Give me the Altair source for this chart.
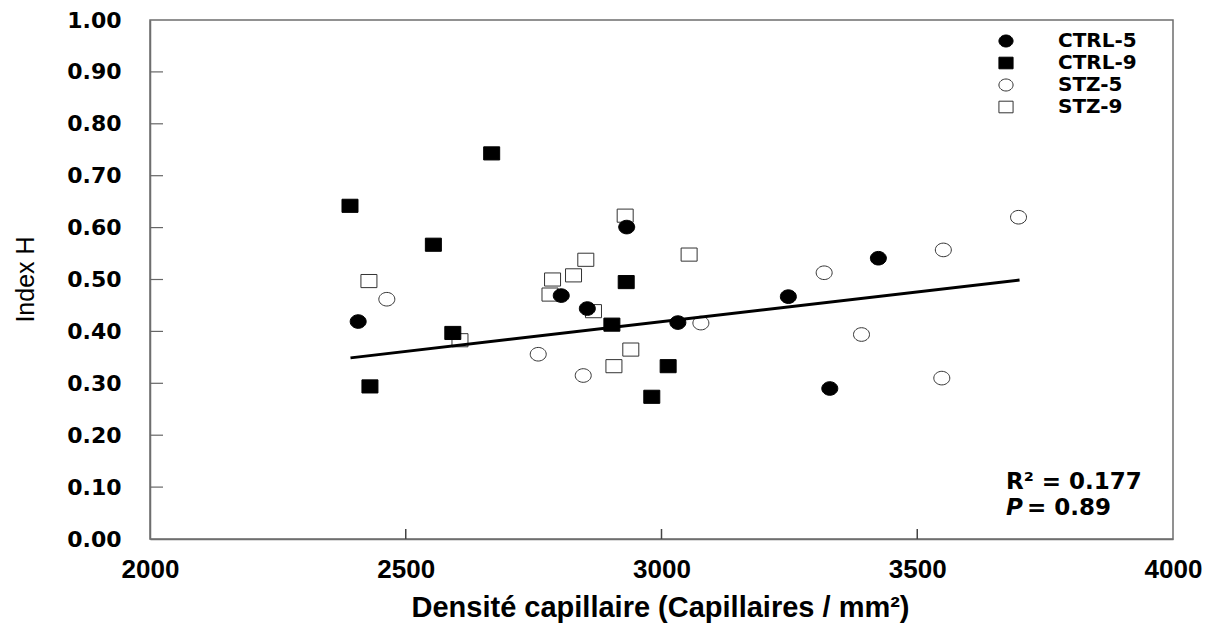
import altair as alt
import pandas as pd

# ---------------- data ----------------
groups = ["CTRL-5", "CTRL-9", "STZ-5", "STZ-9"]

ctrl5_x = [2407, 2804, 2855, 2932, 3032, 3248, 3424, 3329]
ctrl5_y = [0.419, 0.469, 0.444, 0.601, 0.417, 0.467, 0.541, 0.290]

ctrl9_x = [2668, 2391, 2554, 2592, 2430, 2931, 2903, 3013, 2981]
ctrl9_y = [0.743, 0.642, 0.567, 0.397, 0.294, 0.495, 0.413, 0.333, 0.274]

stz5_x = [2463, 2759, 2847, 3077, 3698, 3551, 3318, 3391, 3548]
stz5_y = [0.462, 0.356, 0.315, 0.416, 0.620, 0.557, 0.513, 0.394, 0.310]

stz9_x = [2428, 2929, 3054, 2852, 2828, 2787, 2782, 2867, 2606, 2940, 2907]
stz9_y = [0.497, 0.623, 0.548, 0.538, 0.508, 0.500, 0.471, 0.439, 0.383, 0.365, 0.333]

fit_x = [2392, 3700]
fit_y = [0.349, 0.499]

x_ticks = [2000, 2500, 3000, 3500, 4000]
y_ticks = [0.0, 0.1, 0.2, 0.3, 0.4, 0.5, 0.6, 0.7, 0.8, 0.9, 1.0]

r2_text = "R² = 0.177"
p_label = "P"
p_value = "= 0.89"

x_title = "Densité capillaire (Capillaires / mm²)"
y_title = "Index H"

# ---------------- tables ----------------
rows = []
for g, xs, ys in [("STZ-5", stz5_x, stz5_y), ("STZ-9", stz9_x, stz9_y),
                  ("CTRL-5", ctrl5_x, ctrl5_y), ("CTRL-9", ctrl9_x, ctrl9_y)]:
    for xv, yv in zip(xs, ys):
        rows.append({"group": g, "x": xv, "y": yv})
df = pd.DataFrame(rows)
fit_df = pd.DataFrame({"x": fit_x, "y": fit_y})
xt_df = pd.DataFrame({"x": x_ticks[1:-1]})
yt_df = pd.DataFrame({"y": y_ticks[1:-1]})

ellipse = "M-1,0A1,0.85 0 1,1 1,0A1,0.85 0 1,1 -1,0Z"
rect = "M-1,-0.82H1V0.82H-1Z"

xscale = alt.Scale(domain=[2000, 4000], nice=False, zero=False)
yscale = alt.Scale(domain=[0, 1], nice=False, zero=False)

AX = "#6e6e6e"
H = 519

x_axis = alt.Axis(values=x_ticks, format="d", grid=False, ticks=False, tickSize=0, labelFlush=False,
                  labelFont="Liberation Sans", labelFontWeight="bold", labelFontSize=26,
                  labelColor="black", labelPadding=17, domainColor=AX, domainWidth=1.5,
                  title=x_title, titleFont="Liberation Sans", titleFontWeight="bold",
                  titleFontSize=29, titleColor="black", titleX=510, titleY=68,
                  titleBaseline="middle", titleAlign="center")
y_axis = alt.Axis(values=y_ticks, format=".2f", grid=False, ticks=False, tickSize=0, labelFlush=False,
                  labelFont="DejaVu Sans", labelFontWeight="bold", labelFontSize=22,
                  labelColor="black", labelPadding=29, domainColor=AX, domainWidth=1.5,
                  title=y_title, titleFont="Liberation Sans", titleFontWeight="normal",
                  titleFontSize=25, titleColor="black", titleX=-125, titleY=259,
                  titleAngle=270, titleBaseline="middle", titleAlign="center")

X = alt.X("x:Q", scale=xscale, axis=x_axis, title=x_title)
Y = alt.Y("y:Q", scale=yscale, axis=y_axis, title=y_title)

shape_enc = alt.Shape("group:N", scale=alt.Scale(domain=groups, range=[ellipse, rect, ellipse, rect]),
                      legend=alt.Legend(title=None))
fill_enc = alt.Fill("group:N", scale=alt.Scale(domain=groups, range=["#000000", "#000000", "#ffffff", "#ffffff"]),
                    legend=alt.Legend(title=None))
stroke_enc = alt.Stroke("group:N", scale=alt.Scale(domain=groups, range=["#000000", "#000000", "#333333", "#333333"]),
                        legend=alt.Legend(title=None))

open_pts = alt.Chart(df).transform_filter(
    alt.FieldOneOfPredicate(field="group", oneOf=["STZ-5", "STZ-9"])
).mark_point(size=256, opacity=1, strokeWidth=1).encode(
    x=X, y=Y, shape=shape_enc, fill=fill_enc, stroke=stroke_enc,
)

fit_line = alt.Chart(fit_df).mark_line(color="black", strokeWidth=3).encode(x=X, y=Y)

filled_pts = alt.Chart(df).transform_filter(
    alt.FieldOneOfPredicate(field="group", oneOf=["CTRL-5", "CTRL-9"])
).mark_point(size=256, opacity=1, strokeWidth=1).encode(
    x=X, y=Y, shape=shape_enc, fill=fill_enc, stroke=stroke_enc,
)

xticks_in = alt.Chart(xt_df).mark_rule(color="#444444", strokeWidth=1.5).encode(
    x=X, y=alt.value(H), y2=alt.value(H - 10),
)
yticks_in = alt.Chart(yt_df).mark_rule(color="#666666", strokeWidth=1.2).encode(
    y=Y, x=alt.value(0), x2=alt.value(13),
)

r2 = alt.Chart(pd.DataFrame({"t": [r2_text]})).mark_text(
    font="DejaVu Sans", fontWeight="bold", fontSize=23, align="left", baseline="middle", color="black"
).encode(x=alt.value(856), y=alt.value(462), text="t:N")
pl = alt.Chart(pd.DataFrame({"t": [p_label]})).mark_text(
    font="DejaVu Sans", fontWeight="bold", fontStyle="italic", fontSize=23, align="left",
    baseline="middle", color="black"
).encode(x=alt.value(856), y=alt.value(488), text="t:N")
pv = alt.Chart(pd.DataFrame({"t": [p_value]})).mark_text(
    font="DejaVu Sans", fontWeight="bold", fontSize=23, align="left", baseline="middle", color="black"
).encode(x=alt.value(877), y=alt.value(488), text="t:N")

chart = alt.layer(open_pts, fit_line, filled_pts, xticks_in, yticks_in, r2, pl, pv).properties(
    width=1023, height=H,
    autosize=alt.AutoSizeParams(type="none"),
    padding={"left": 142, "top": 12, "right": 35, "bottom": 86},
).configure_view(
    stroke=AX, strokeWidth=1.5
).configure_legend(
    orient="none", legendX=846, legendY=11, padding=0,
    labelFont="DejaVu Sans", labelFontWeight="bold", labelFontSize=20, labelColor="black",
    symbolSize=200, symbolStrokeWidth=1, labelOffset=42, rowPadding=2,
)

chart.save("out.html", embed_options={"renderer": "svg", "actions": False})
